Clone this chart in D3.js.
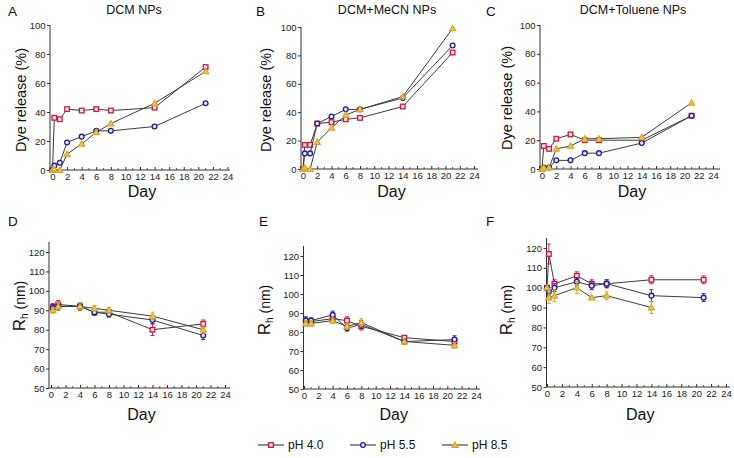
<!DOCTYPE html>
<html>
<head>
<meta charset="utf-8">
<script src="https://cdn.jsdelivr.net/npm/d3@7"></script>
<style>
  html, body { margin: 0; padding: 0; background: #fff; }
  svg { display: block; font-family: "Liberation Sans", Arial, sans-serif; }
</style>
</head>
<body>
<svg id="chart" width="734" height="458"></svg>
<script>
// ---------------- DATA ----------------
const seriesNames = ["pH 4.0", "pH 5.5", "pH 8.5"];
const releaseDays = [0, 0.25, 1, 2, 4, 6, 8, 14, 21];

const A_pH40 = [0, 36, 35, 42, 41, 42, 41, 43, 71];
const A_pH55 = [0, 3, 5, 19, 23, 27, 27, 30, 46];
const A_pH85 = [0, 0.5, 0, 11, 18, 26, 32, 46, 68];

const B_pH40 = [0, 17, 17, 32, 33, 35, 36, 44, 82];
const B_pH55 = [0, 11, 11, 32, 37, 42, 42, 50, 87];
const B_pH85 = [0, 1, 0, 19, 29, 38, 42, 51, 99];

const C_pH40 = [0, 16, 14, 21, 24, 20, 20, 20, 37];
const C_pH55 = [0, 1, 1, 6, 6, 11, 11, 18, 37];
const C_pH85 = [0, 1, 1, 14, 16, 21, 21, 22, 46];

const sizeDays = [0.25, 1, 4, 6, 8, 14, 21];
const D_pH40 = [91.5, 93, 92, 89, 89, 80, 83];
const D_pH40_err = [2, 2, 2, 1.5, 1.5, 3, 2];
const D_pH55 = [91, 92, 92, 89, 88, 85, 77];
const D_pH55_err = [2, 2, 2, 1.5, 1.5, 2, 2];
const D_pH85 = [90, 92, 92, 91, 90, 87, 80];
const D_pH85_err = [1.5, 2, 2, 1.5, 1.5, 2, 2];

const E_pH40 = [85.5, 85.5, 87, 86, 83, 77, 75];
const E_pH40_err = [2, 1.5, 2, 2, 2, 1, 1.5];
const E_pH55 = [86, 86, 89, 82, 84, 75, 76];
const E_pH55_err = [2, 1.5, 2, 1.5, 2, 1.5, 2];
const E_pH85 = [84.5, 84.5, 86, 83, 85, 75, 73];
const E_pH85_err = [1.5, 1.5, 1.5, 1.5, 2, 1.5, 1.5];

const F_days = [0, 0.25, 1, 4, 6, 8, 14, 21];
const F_pH40 = [100, 117, 102, 106, 102, 102, 104, 104];
const F_pH40_err = [0, 5, 2, 2, 2, 2, 2, 2];
const F_pH55 = [100, 98, 100, 103, 101, 102, 96, 95];
const F_pH55_err = [0, 2, 2, 2, 2, 2, 3, 2];
const F_pH85 = [100, 95, 96, 100, 95, 96, 90, null];
const F_pH85_err = [0, 3, 3, 3, 1, 2, 3, 0];

const xTicks = [0, 2, 4, 6, 8, 10, 12, 14, 16, 18, 20, 22, 24];
const releaseTicks = [0, 20, 40, 60, 80, 100];
const sizeTicks = [50, 60, 70, 80, 90, 100, 110, 120];

// ---------------- STYLE ----------------
const colors = ["#d0153a", "#1f1f9a", "#d6a51c"];
const fills = ["#ffe4e8", "#e6e6ff", "#e8c55a"];
const shapes = ["square", "circle", "triangle"];
const lineColor = "#3c3c3c";

const svg = d3.select("#chart");

const panels = [
  { letter: "A", lx: 8, ly: 16, title: "DCM NPs", tx: 134, type: "rel", x0: 52.5, x24: 227.5, left: 50, right: 230, yb: 170, yt: 25, ylab: [21, 100], days: releaseDays, s: [A_pH40, A_pH55, A_pH85] },
  { letter: "B", lx: 256, ly: 16, title: "DCM+MeCN NPs", tx: 387, type: "rel", x0: 303, x24: 474, left: 301, right: 478, yb: 169, yt: 27, ylab: [266, 100], days: releaseDays, s: [B_pH40, B_pH55, B_pH85] },
  { letter: "C", lx: 486, ly: 16, title: "DCM+Toluene NPs", tx: 633, type: "rel", x0: 542, x24: 713, left: 540, right: 720, yb: 169, yt: 25, ylab: [507, 98], days: releaseDays, s: [C_pH40, C_pH55, C_pH85] },
  { letter: "D", lx: 8, ly: 226, type: "size", x0: 51, x24: 225, left: 49, right: 230, yb: 388, yt: 252, top: 242, ylab: [19, 306], days: sizeDays, s: [D_pH40, D_pH55, D_pH85], e: [D_pH40_err, D_pH55_err, D_pH85_err] },
  { letter: "E", lx: 259, ly: 226, type: "size", x0: 304, x24: 476, left: 303.5, right: 480, yb: 389, yt: 256, top: 246, ylab: [264, 310], days: sizeDays, s: [E_pH40, E_pH55, E_pH85], e: [E_pH40_err, E_pH55_err, E_pH85_err] },
  { letter: "F", lx: 486, ly: 226, type: "size", x0: 547, x24: 726, left: 546.5, right: 730, yb: 387, yt: 248, top: 238, ylab: [506, 310], days: F_days, s: [F_pH40, F_pH55, F_pH85], e: [F_pH40_err, F_pH55_err, F_pH85_err] }
];

function drawMarker(g, shape, cx, cy, i) {
  if (shape === "square") {
    g.append("rect").attr("x", cx - 2.3).attr("y", cy - 2.3).attr("width", 4.6).attr("height", 4.6)
      .attr("fill", fills[i]).attr("stroke", colors[i]).attr("stroke-width", 1.3);
  } else if (shape === "circle") {
    g.append("circle").attr("cx", cx).attr("cy", cy).attr("r", 2.4)
      .attr("fill", fills[i]).attr("stroke", colors[i]).attr("stroke-width", 1.3);
  } else {
    const s = 3.1;
    g.append("path").attr("d", `M${cx},${cy - s}L${cx + s},${cy + s * 0.75}L${cx - s},${cy + s * 0.75}Z`)
      .attr("fill", fills[i]).attr("stroke", colors[i]).attr("stroke-width", 1.1);
  }
}

panels.forEach(p => {
  const g = svg.append("g");
  const x = d3.scaleLinear().domain([0, 24]).range([p.x0, p.x24]);
  const y = p.type === "rel"
    ? d3.scaleLinear().domain([0, 100]).range([p.yb, p.yt])
    : d3.scaleLinear().domain([50, 120]).range([p.yb, p.yt]);
  const yTopPx = p.type === "rel" ? p.yt : p.top;

  // panel letter
  g.append("text").attr("x", p.lx).attr("y", p.ly).attr("font-size", 13.5).attr("fill", "#111").text(p.letter);
  if (p.title) {
    g.append("text").attr("x", p.tx).attr("y", 14).attr("text-anchor", "middle")
      .attr("font-size", 12.5).attr("fill", "#111").text(p.title);
  }

  // x axis
  const xAxis = d3.axisBottom(x).tickValues(xTicks).tickSizeInner(-3).tickSizeOuter(0).tickPadding(3.5);
  const xg = g.append("g").attr("transform", `translate(0,${p.yb})`).call(xAxis);
  xg.select(".domain").remove();
  xg.selectAll("text").attr("font-size", 9.5).attr("font-family", "Liberation Sans, Arial, sans-serif").attr("fill", "#222");
  xg.selectAll(".tick line").attr("stroke", "#333");
  const minor = d3.range(1, 25, 2);
  g.selectAll(null).data(minor).enter().append("line")
    .attr("x1", d => x(d)).attr("x2", d => x(d)).attr("y1", p.yb).attr("y2", p.yb - 2)
    .attr("stroke", "#333").attr("stroke-width", 0.8);
  g.append("line").attr("x1", p.left).attr("x2", p.right).attr("y1", p.yb).attr("y2", p.yb)
    .attr("stroke", "#333").attr("stroke-width", 1);

  // y axis
  const yAxis = d3.axisLeft(y).tickValues(p.type === "rel" ? releaseTicks : sizeTicks)
    .tickSizeInner(3).tickSizeOuter(0).tickPadding(1.5);
  const yg = g.append("g").attr("transform", `translate(${p.left},0)`).call(yAxis);
  yg.select(".domain").remove();
  yg.selectAll("text").attr("font-size", 9.5).attr("font-family", "Liberation Sans, Arial, sans-serif").attr("fill", "#222");
  yg.selectAll(".tick line").attr("stroke", "#333");
  g.append("line").attr("x1", p.left).attr("x2", p.left).attr("y1", p.yb).attr("y2", yTopPx)
    .attr("stroke", "#333").attr("stroke-width", 1);

  // axis titles
  const dayY = p.type === "rel" ? 197 : 420;
  g.append("text").attr("x", (p.left + p.right) / 2 + 2).attr("y", dayY).attr("text-anchor", "middle")
    .attr("font-size", 16).attr("fill", "#111").text("Day");
  const yl = g.append("text").attr("transform", `translate(${p.ylab[0]},${p.ylab[1]}) rotate(-90)`)
    .attr("text-anchor", "middle").attr("dy", "0.35em").attr("fill", "#111");
  if (p.type === "rel") {
    yl.attr("font-size", 14.5).text("Dye release (%)");
  } else {
    yl.append("tspan").attr("font-size", 17).text("R");
    yl.append("tspan").attr("font-size", 10).attr("dy", "0.35em").text("h");
    yl.append("tspan").attr("font-size", 14).attr("dy", "-0.25em").text(" (nm)");
  }

  // series
  p.s.forEach((vals, i) => {
    const pts = p.days.map((d, k) => ({ d, v: vals[k], e: p.e ? p.e[i][k] : 0 })).filter(o => o.v !== null);
    const line = d3.line().x(o => x(o.d)).y(o => y(o.v));
    g.append("path").attr("d", line(pts)).attr("fill", "none").attr("stroke", lineColor).attr("stroke-width", 1);
    const sg = g.append("g");
    pts.forEach(o => {
      if (o.e > 0) {
        const cx = x(o.d);
        sg.append("line").attr("x1", cx).attr("x2", cx).attr("y1", y(o.v - o.e)).attr("y2", y(o.v + o.e))
          .attr("stroke", colors[i]).attr("stroke-width", 0.9);
        [o.v - o.e, o.v + o.e].forEach(v => {
          sg.append("line").attr("x1", cx - 2).attr("x2", cx + 2).attr("y1", y(v)).attr("y2", y(v))
            .attr("stroke", colors[i]).attr("stroke-width", 0.9);
        });
      }
    });
    pts.forEach(o => drawMarker(sg, shapes[i], x(o.d), y(o.v), i));
  });
});

// legend
const legendX = [258, 350, 442];
const legendY = 445;
seriesNames.forEach((name, i) => {
  const lg = svg.append("g");
  lg.append("line").attr("x1", legendX[i]).attr("x2", legendX[i] + 26).attr("y1", legendY).attr("y2", legendY)
    .attr("stroke", "#222").attr("stroke-width", 1);
  drawMarker(lg, shapes[i], legendX[i] + 13, legendY, i);
  lg.append("text").attr("x", legendX[i] + 30).attr("y", legendY).attr("dy", "0.35em")
    .attr("font-size", 12).attr("fill", "#111").text(name);
});
</script>
</body>
</html>
